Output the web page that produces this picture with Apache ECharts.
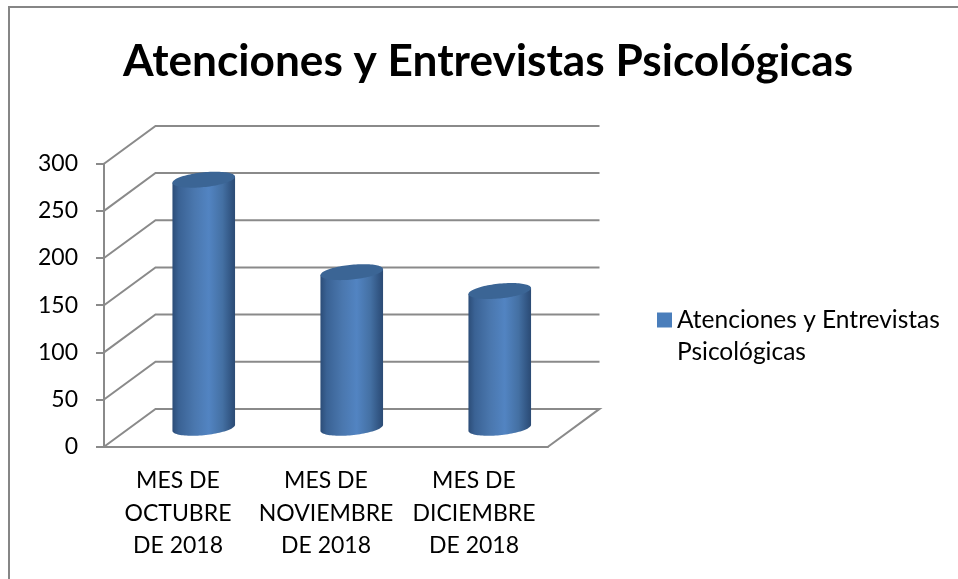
<!DOCTYPE html>
<html><head><meta charset="utf-8">
<style>html,body{margin:0;padding:0;background:#fff}#c{width:958px;height:579px}</style>
<script src="https://cdn.jsdelivr.net/npm/echarts@6/dist/echarts.min.js"></script>
</head><body><div id="c"></div>
<script>
var titleText = 'Atenciones y Entrevistas Psicológicas';
var categories = ['MES DE\nOCTUBRE\nDE 2018', 'MES DE\nNOVIEMBRE\nDE 2018', 'MES DE\nDICIEMBRE\nDE 2018'];
var seriesName = 'Atenciones y Entrevistas Psicológicas';
var values = [263, 165, 145];
var yTicks = [0, 50, 100, 150, 200, 250, 300];

var GRID = '#8a8a8a', DX = 51.5, DY = -37.8, LW = 2;
var chart = echarts.init(document.getElementById('c'));

function wall(params, api) {
  var v = api.value(1);
  var half = api.size([1, 0])[0] / 2;
  var p0 = api.coord([0, v]), p2 = api.coord([2, v]);
  var x0 = p0[0] - half, x1 = p2[0] + half, y = p0[1];
  var pts = [[x0, y], [x0 + DX, y + DY], [x1 + DX, y + DY]];
  if (v === 0) pts.push([x1, y]);
  return {
    type: 'polyline', shape: { points: pts },
    style: { stroke: GRID, lineWidth: LW, fill: null }
  };
}
function cylinder(params, api) {
  var i = api.value(0), v = api.value(1);
  var band = api.size([1, 0])[0];
  var a = band * 0.2115, sa = 3, b = 7.4;
  var top = api.coord([i, v]), base = api.coord([i, 0]);
  var cx = top[0] + DX / 2;
  var ty = top[1] + DY / 2, by = base[1] + DY / 2;
  var ell = function (cy, t) {
    return [cx + a * Math.cos(t), cy - sa * Math.cos(t) + b * Math.sin(t)];
  };
  var body = [], cap = [], n = 48, k;
  for (k = 0; k <= n; k++) body.push(ell(by, Math.PI * k / n));
  body.push(ell(ty, Math.PI), ell(ty, 0));
  for (k = 0; k < n * 2; k++) cap.push(ell(ty, Math.PI * k / n));
  return {
    type: 'group',
    children: [
      { type: 'polygon', shape: { points: body }, style: { fill: {
        type: 'linear', x: 0, y: 0, x2: 1, y2: 0, colorStops: [
          { offset: 0, color: '#2c4d78' }, { offset: 0.1, color: '#3a6294' },
          { offset: 0.35, color: '#4a77ae' }, { offset: 0.58, color: '#5284c2' },
          { offset: 0.8, color: '#4470a3' }, { offset: 0.95, color: '#305380' },
          { offset: 1, color: '#2c4b74' }
        ] } } },
      { type: 'polygon', shape: { points: cap }, style: { fill: '#3b6595' } }
    ]
  };
}

chart.setOption({
  animation: false,
  backgroundColor: '#fff',
  graphic: [{ type: 'rect', shape: { x: 9, y: 7, width: 960, height: 600 },
    style: { fill: null, stroke: '#868686', lineWidth: 2 }, silent: true }],
  title: { text: titleText, left: 483, top: 35, textAlign: 'center',
    textStyle: { fontFamily: 'Lato', fontWeight: 'bold', fontSize: 44.2, color: '#000' } },
  legend: {
    left: 652, top: 267, icon: 'rect', itemWidth: 15, itemHeight: 15, itemGap: 0,
    data: [seriesName],
    formatter: function () { return '\nAtenciones y Entrevistas\nPsicológicas'; },
    textStyle: { fontFamily: 'Lato', fontSize: 24.5, lineHeight: 32, color: '#000' }
  },
  grid: { left: 104, top: 163.7, width: 444, height: 283 },
  xAxis: {
    type: 'category', data: categories,
    axisLine: { lineStyle: { color: GRID, width: LW } },
    axisTick: { length: 8, lineStyle: { color: GRID, width: LW } },
    axisLabel: { color: '#000', fontFamily: 'Lato', fontSize: 23, lineHeight: 32.4, margin: 18, interval: 0 },
    splitLine: { show: false }
  },
  yAxis: {
    type: 'value', min: 0, max: 300, interval: 50,
    axisLine: { show: true, lineStyle: { color: GRID, width: LW } },
    axisTick: { show: true, length: 8, lineStyle: { color: GRID, width: LW } },
    axisLabel: { color: '#000', fontFamily: 'Lato', fontSize: 23, margin: 26 },
    splitLine: { show: false }
  },
  series: [
    { type: 'custom', name: 'walls', silent: true, clip: false, z: 1,
      data: yTicks.map(function (v) { return [0, v]; }), renderItem: wall },
    { type: 'custom', name: seriesName, clip: false, z: 2,
      itemStyle: { color: '#4a7ebb' },
      data: values.map(function (v, i) { return [i, v]; }), renderItem: cylinder }
  ]
});
</script></body></html>
